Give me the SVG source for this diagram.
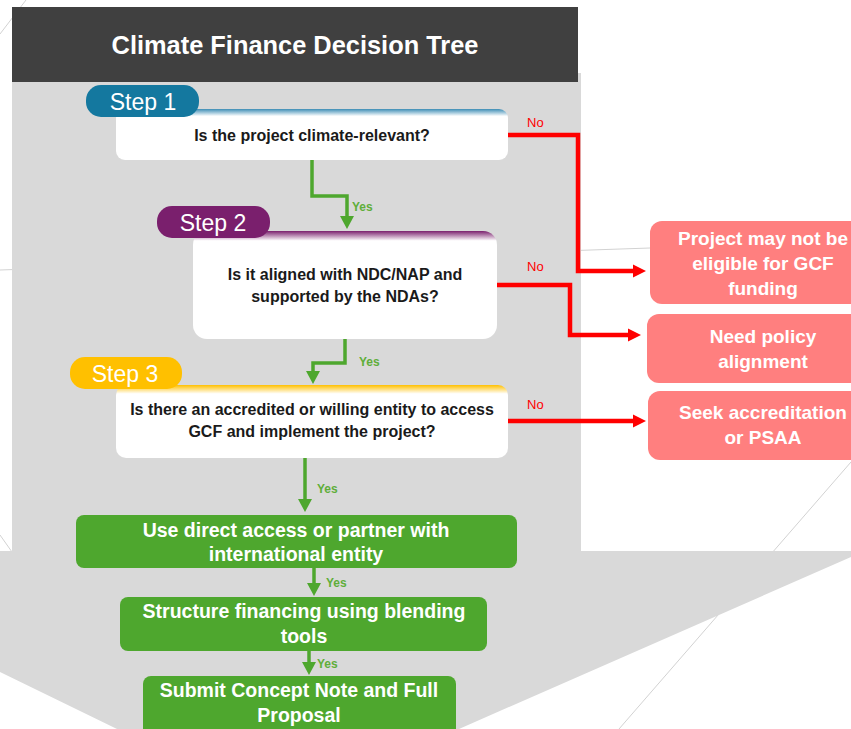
<svg xmlns="http://www.w3.org/2000/svg" width="851" height="729" viewBox="0 0 851 729">
<defs>
<style>
.bgline{stroke:#d2d2d2;stroke-width:1;fill:none}
.title{font-family:"Liberation Sans",Arial,sans-serif;font-weight:bold;font-size:25.4px;fill:#ffffff;text-anchor:middle}
.step{font-family:"Liberation Sans",Arial,sans-serif;font-size:23px;fill:#ffffff;text-anchor:middle}
.q{font-family:"Liberation Sans",Arial,sans-serif;font-weight:bold;font-size:16px;fill:#1a1a1a;text-anchor:middle}
.out{font-family:"Liberation Sans",Arial,sans-serif;font-weight:bold;font-size:19px;fill:#ffffff;text-anchor:middle}
.act{font-family:"Liberation Sans",Arial,sans-serif;font-weight:bold;font-size:19.5px;fill:#ffffff;text-anchor:middle}
.yes{font-family:"Liberation Sans",Arial,sans-serif;font-weight:bold;font-size:12px;fill:#5fae3a}
.no{font-family:"Liberation Sans",Arial,sans-serif;font-size:13px;fill:#ff0000}
.g{fill:none;stroke:#4ea72e;stroke-width:3.5;marker-end:url(#ag)}
.r{fill:none;stroke:#ff0000;stroke-width:4.5;marker-end:url(#ar)}
.redbox{fill:#ff7f7f}
.greenbox{fill:#4ea72e}
</style>
<marker id="ag" markerUnits="userSpaceOnUse" markerWidth="14" markerHeight="14" viewBox="0 0 14 14" refX="2" refY="7" orient="auto">
<path d="M0,0 L13,7 L0,14 z" fill="#4ea72e"/>
</marker>
<marker id="ar" markerUnits="userSpaceOnUse" markerWidth="14" markerHeight="14" viewBox="0 0 14 14" refX="2" refY="7" orient="auto">
<path d="M0,0.5 L13,7 L0,13.5 z" fill="#ff0000"/>
</marker>
<linearGradient id="gb" x1="0" y1="0" x2="0" y2="1">
<stop offset="0" stop-color="#3d8db5"/>
<stop offset="0.14" stop-color="#ffffff"/>
</linearGradient>
<linearGradient id="gp" x1="0" y1="0" x2="0" y2="1">
<stop offset="0" stop-color="#7a1f6d"/>
<stop offset="0.09" stop-color="#ffffff"/>
</linearGradient>
<linearGradient id="gy" x1="0" y1="0" x2="0" y2="1">
<stop offset="0" stop-color="#ffc000"/>
<stop offset="0.12" stop-color="#ffffff"/>
</linearGradient>
</defs>
<rect x="0" y="0" width="851" height="729" fill="#ffffff"/>
<g id="background">
<line class="bgline" x1="0" y1="34" x2="26" y2="0"/>
<line class="bgline" x1="0" y1="270" x2="650" y2="248"/>
<line class="bgline" x1="851" y1="462" x2="619" y2="729"/>
<line class="bgline" x1="0" y1="535" x2="12" y2="552"/>
<polygon points="12,73 581,73 581,551 851,551 851,557 459,729 117,729 0,672 0,551 12,551" fill="#d9d9d9"/>
</g>
<g id="header">
<rect x="12" y="7" width="566" height="75" fill="#404040"/>
<text class="title" x="295" y="54">Climate Finance Decision Tree</text>
</g>
<g id="connectors">
<path class="g" d="M312,160 V196 H347 V218"/>
<path class="g" d="M345,339 V363 H313 V373"/>
<path class="g" d="M305,458 V501"/>
<path class="g" d="M314,568 V585"/>
<path class="g" d="M309,651 V664"/>
<path class="r" d="M508,135 H578 V271 H635"/>
<path class="r" d="M497,285 H570 V335 H630"/>
<path class="r" d="M508,421 H635"/>
<text class="no" x="527" y="127">No</text>
<text class="no" x="527" y="271">No</text>
<text class="no" x="527" y="409">No</text>
<text class="yes" x="352" y="211">Yes</text>
<text class="yes" x="359" y="366">Yes</text>
<text class="yes" x="317" y="493">Yes</text>
<text class="yes" x="326" y="587">Yes</text>
<text class="yes" x="317" y="668">Yes</text>
</g>
<g id="step1">
<rect x="116" y="109" width="392" height="51" rx="9" fill="url(#gb)"/>
<rect x="86" y="85" width="113" height="32" rx="15" fill="#14789f"/>
<text class="step" x="143" y="110">Step 1</text>
<text class="q" x="312" y="141">Is the project climate-relevant?</text>
</g>
<g id="step2">
<rect x="193" y="231" width="304" height="108" rx="14" fill="url(#gp)"/>
<rect x="157" y="206" width="113" height="32" rx="15" fill="#7a1f6d"/>
<text class="step" x="213" y="231">Step 2</text>
<text class="q" x="345" y="280">Is it aligned with NDC/NAP and</text>
<text class="q" x="345" y="302">supported by the NDAs?</text>
</g>
<g id="step3">
<rect x="116" y="385" width="392" height="73" rx="10" fill="url(#gy)"/>
<rect x="70" y="357" width="112" height="32" rx="15" fill="#ffc000"/>
<text class="step" x="125" y="382">Step 3</text>
<text class="q" x="312" y="415">Is there an accredited or willing entity to access</text>
<text class="q" x="312" y="437">GCF and implement the project?</text>
</g>
<g id="no1">
<rect class="redbox" x="650" y="221" width="230" height="83" rx="12"/>
<text class="out" x="763" y="245">Project may not be</text>
<text class="out" x="763" y="270">eligible for GCF</text>
<text class="out" x="763" y="295">funding</text>
</g>
<g id="no2">
<rect class="redbox" x="647" y="314" width="230" height="69" rx="12"/>
<text class="out" x="763" y="343">Need policy</text>
<text class="out" x="763" y="368">alignment</text>
</g>
<g id="no3">
<rect class="redbox" x="648" y="391" width="230" height="69" rx="12"/>
<text class="out" x="763" y="419">Seek accreditation</text>
<text class="out" x="763" y="444">or PSAA</text>
</g>
<g id="action1">
<rect class="greenbox" x="76" y="515" width="441" height="53" rx="8"/>
<text class="act" x="296" y="537">Use direct access or partner with</text>
<text class="act" x="296" y="561">international entity</text>
</g>
<g id="action2">
<rect class="greenbox" x="120" y="597" width="367" height="54" rx="8"/>
<text class="act" x="304" y="618">Structure financing using blending</text>
<text class="act" x="304" y="643">tools</text>
</g>
<g id="action3">
<rect class="greenbox" x="143" y="676" width="313" height="62" rx="8"/>
<text class="act" x="299" y="697">Submit Concept Note and Full</text>
<text class="act" x="299" y="722">Proposal</text>
</g>
</svg>
